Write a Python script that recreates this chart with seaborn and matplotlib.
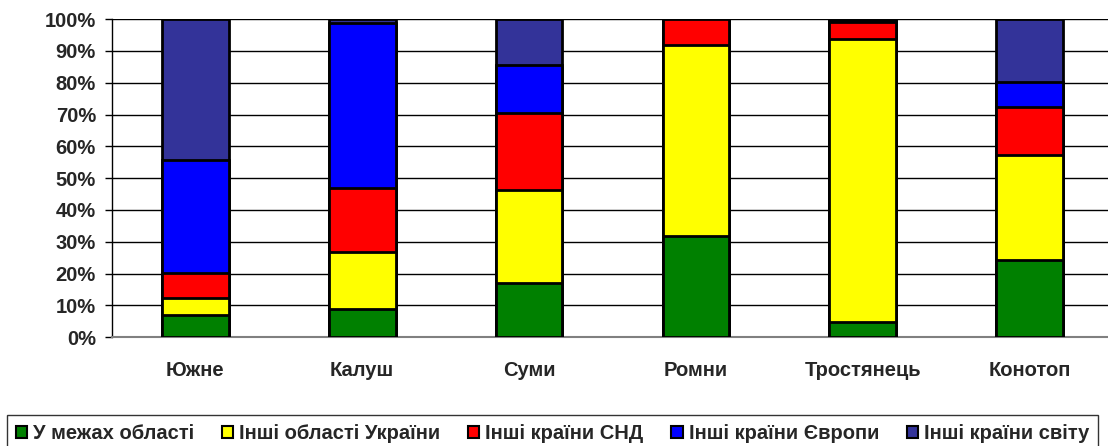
import numpy as np
import pandas as pd
import matplotlib
matplotlib.use("Agg")
import matplotlib.pyplot as plt
import seaborn as sns
from matplotlib.patches import Patch
from matplotlib.ticker import FixedLocator, PercentFormatter

# data (shares in %)
towns = ["Южне", "Калуш", "Суми", "Ромни", "Тростянець", "Конотоп"]
in_region = [7, 9, 17.1, 31.7, 4.8, 24.3]
other_ukraine = [5.2, 17.8, 29.3, 60.3, 89.1, 33.0]
cis = [8.1, 20.2, 24.1, 8.0, 5.3, 15.1]
europe = [35.4, 51.9, 15.0, 0.0, 0.5, 7.8]
world = [44.3, 1.1, 14.5, 0.0, 0.3, 19.8]

series_names = ["У межах області", "Інші області України", "Інші країни СНД",
                "Інші країни Європи", "Інші країни світу"]
colors = ["#008000", "#ffff00", "#ff0000", "#0000ff", "#333399"]

df = pd.DataFrame({"town": towns, series_names[0]: in_region,
                   series_names[1]: other_ukraine, series_names[2]: cis,
                   series_names[3]: europe, series_names[4]: world})
cum = df[series_names].cumsum(axis=1)

sns.set_style("white")
plt.rcParams["font.family"] = ["Liberation Sans", "DejaVu Sans"]
plt.rcParams["font.weight"] = "bold"

fs = 14.5
fig = plt.figure(figsize=(11.08, 4.46), dpi=100)
ax = fig.add_axes([0.101, 0.244, 0.899, 0.713])

# stacked bars: draw cumulative totals from the top down
for name, col in reversed(list(zip(series_names, colors))):
    sns.barplot(x=df["town"], y=cum[name], color=col, width=0.4, ax=ax,
                edgecolor="black", linewidth=2, saturation=1, zorder=3)

ax.set_ylim(0, 100)
ax.set_xlim(-0.5, 5.47)
ax.yaxis.set_major_locator(FixedLocator(np.arange(0, 101, 10)))
ax.yaxis.set_major_formatter(PercentFormatter(decimals=0))
for y in range(10, 101, 10):
    ax.axhline(y, color="black", lw=1, zorder=1)
ax.set_xlabel("")
ax.set_ylabel("")
ax.set_xticks(np.arange(6))
ax.set_xticklabels(towns, fontsize=fs, fontweight="bold")
ax.tick_params(axis="x", length=0, pad=17)
ax.xaxis.set_minor_locator(FixedLocator(np.arange(0.5, 5.5, 1)))
ax.tick_params(axis="x", which="minor", length=6, width=1, color="#404040")
ax.tick_params(axis="y", length=5, width=1, color="black", labelsize=fs, pad=6.5,
               left=True)
for lab in ax.get_yticklabels():
    lab.set_fontweight("bold")
for s in ["top", "right"]:
    ax.spines[s].set_visible(False)
ax.spines["left"].set_color("black")
ax.spines["bottom"].set_color("#808080")
ax.spines["left"].set_linewidth(1)
ax.spines["bottom"].set_linewidth(1.5)

handles = [Patch(facecolor=c, edgecolor="black", linewidth=1.5, label=n)
           for n, c in zip(series_names, colors)]
leg = fig.legend(handles=handles, loc="upper left", ncol=5,
                 bbox_to_anchor=(0.0063, 0.0, 0.985, 0.0695), mode="expand",
                 frameon=True, fancybox=False, handlelength=0.55, handleheight=0.55,
                 handletextpad=0.3, columnspacing=0.5, borderpad=0.45,
                 borderaxespad=0, prop={"size": fs, "weight": "bold"})
leg.get_frame().set_edgecolor("black")
leg.get_frame().set_linewidth(1)

fig.savefig("out.png", dpi=100)
